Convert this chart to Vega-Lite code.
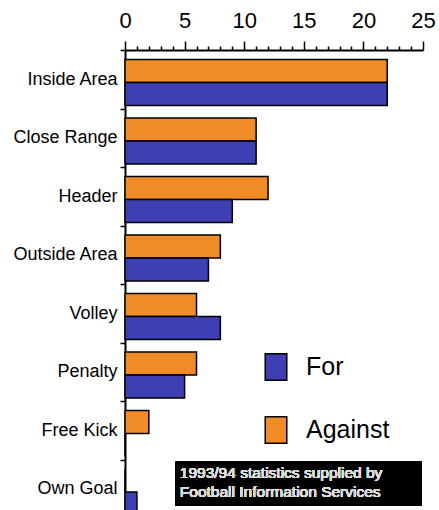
{
  "$schema": "https://vega.github.io/schema/vega-lite/v6.json",
  "autosize": "none",
  "padding": {"left": 125, "top": 50, "right": 16, "bottom": 0},
  "width": 298,
  "height": 460,
  "background": "white",
  "config": {"font": "Liberation Sans", "view": {"stroke": null}},
  "data": {"values": [
    {"category": "Inside Area", "type": "Against", "goals": 22},
    {"category": "Inside Area", "type": "For", "goals": 22},
    {"category": "Close Range", "type": "Against", "goals": 11},
    {"category": "Close Range", "type": "For", "goals": 11},
    {"category": "Header", "type": "Against", "goals": 12},
    {"category": "Header", "type": "For", "goals": 9},
    {"category": "Outside Area", "type": "Against", "goals": 8},
    {"category": "Outside Area", "type": "For", "goals": 7},
    {"category": "Volley", "type": "Against", "goals": 6},
    {"category": "Volley", "type": "For", "goals": 8},
    {"category": "Penalty", "type": "Against", "goals": 6},
    {"category": "Penalty", "type": "For", "goals": 5},
    {"category": "Free Kick", "type": "Against", "goals": 2},
    {"category": "Free Kick", "type": "For", "goals": 0},
    {"category": "Own Goal", "type": "Against", "goals": 0},
    {"category": "Own Goal", "type": "For", "goals": 1}
  ]},
  "encoding": {
    "y": {
      "field": "category", "type": "nominal",
      "sort": ["Inside Area", "Close Range", "Header", "Outside Area", "Volley", "Penalty", "Free Kick", "Own Goal"],
      "scale": {"range": [0, 468], "paddingInner": 0, "paddingOuter": 0},
      "axis": {
        "title": null, "orient": "left",
        "domainColor": "black", "domainWidth": 2,
        "tickBand": "extent", "tickSize": 5, "tickColor": "black", "tickWidth": 1.5,
        "labelFontSize": 18, "labelColor": "black", "labelPadding": 3
      }
    }
  },
  "layer": [
    {
      "mark": {"type": "bar", "stroke": "black", "strokeWidth": 1.5},
      "encoding": {
        "x": {
          "field": "goals", "type": "quantitative",
          "scale": {"domain": [0, 25], "nice": false},
          "axis": {
            "title": null, "orient": "top", "grid": false,
            "values": [0,1,2,3,4,5,6,7,8,9,10,11,12,13,14,15,16,17,18,19,20,21,22,23,24,25],
            "labelExpr": "datum.value % 5 === 0 ? datum.label : ''",
            "labelOverlap": false,
            "labelFontSize": 22, "labelColor": "black", "labelPadding": 9,
            "labelFlush": false,
            "domainColor": "black", "domainWidth": 2,
            "tickColor": "black", "tickWidth": 1.5,
            "tickSize": {"condition": {"test": "datum.value % 5 === 0", "value": 9}, "value": 4}
          }
        },
        "yOffset": {
          "field": "type", "type": "nominal",
          "scale": {"domain": ["Against", "For"], "range": [9.5, 55.5], "paddingInner": 0, "paddingOuter": 0}
        },
        "fill": {
          "field": "type", "type": "nominal",
          "scale": {"domain": ["For", "Against"], "range": ["#3D3FB3", "#F08C26"]},
          "legend": {
            "title": null, "orient": "none", "legendX": 137, "legendY": 303,
            "symbolType": "M-0.815,-1H0.815V1H-0.815Z", "symbolSize": 700,
            "symbolStrokeColor": "black", "symbolStrokeWidth": 1.5,
            "labelFontSize": 25, "labelColor": "black", "labelOffset": 16,
            "rowPadding": 29
          }
        }
      }
    },
    {
      "mark": {"type": "bar", "color": "black", "height": 44, "yOffset": -5},
      "encoding": {
        "x": {
          "datum": 4.25,
          "axis": {
            "title": null, "orient": "top", "grid": false,
            "values": [0,1,2,3,4,5,6,7,8,9,10,11,12,13,14,15,16,17,18,19,20,21,22,23,24,25],
            "labelExpr": "datum.value % 5 === 0 ? datum.label : ''",
            "labelOverlap": false,
            "labelFontSize": 22, "labelColor": "black", "labelPadding": 9,
            "labelFlush": false,
            "domainColor": "black", "domainWidth": 2,
            "tickColor": "black", "tickWidth": 1.5,
            "tickSize": {"condition": {"test": "datum.value % 5 === 0", "value": 9}, "value": 4}
          }
        },
        "x2": {"datum": 24.9},
        "y": {"datum": "Own Goal"}
      }
    },
    {
      "mark": {"type": "text", "align": "left", "baseline": "middle", "fontSize": 15.5, "fontWeight": "normal", "lineHeight": 19.5, "color": "#dcdcdc", "dy": -16},
      "encoding": {
        "x": {
          "datum": 4.6,
          "axis": {
            "title": null, "orient": "top", "grid": false,
            "values": [0,1,2,3,4,5,6,7,8,9,10,11,12,13,14,15,16,17,18,19,20,21,22,23,24,25],
            "labelExpr": "datum.value % 5 === 0 ? datum.label : ''",
            "labelOverlap": false,
            "labelFontSize": 22, "labelColor": "black", "labelPadding": 9,
            "labelFlush": false,
            "domainColor": "black", "domainWidth": 2,
            "tickColor": "black", "tickWidth": 1.5,
            "tickSize": {"condition": {"test": "datum.value % 5 === 0", "value": 9}, "value": 4}
          }
        },
        "y": {"datum": "Own Goal"},
        "text": {"value": ["1993/94 statistics supplied by", "Football Information Services"]}
      }
    }
  ]
}
